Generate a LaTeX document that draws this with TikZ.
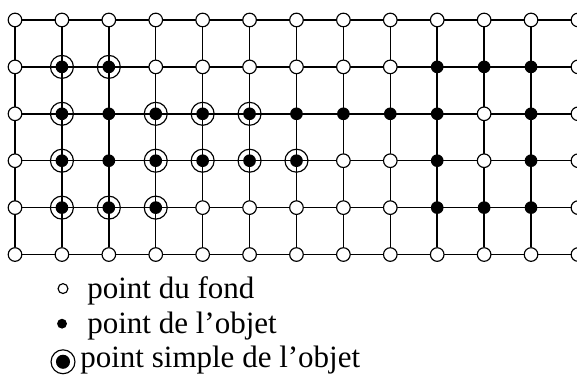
\documentclass[tikz,border=0pt]{standalone}
\usepackage{fontspec}
\setmainfont{Liberation Serif}
\usetikzlibrary{backgrounds}
\tikzset{
  pf/.style={circle, draw, fill=white, line width=0.7pt, minimum size=2.9mm, inner sep=0pt},
  po/.style={circle, fill=black, minimum size=2.7mm, inner sep=0pt},
  ps/.style={circle, draw, line width=0.7pt, minimum size=4.9mm, inner sep=0pt,
    path picture={\fill (path picture bounding box.center) circle[radius=1.35mm];}},
  grille/.style={line width=0.9pt},
  legende/.style={anchor=base west, inner sep=0pt, font=\fontsize{18.8}{22}\selectfont},
}

\begin{document}
\begin{tikzpicture}
  \useasboundingbox (-0.32,0.426) rectangle (11.98,-7.591);
  % f = point du fond, o = point de l'objet, s = point simple
  \foreach \ligne [count=\lig from 0] in {
      {f,f,f,f,f,f,f,f,f,f,f,f,f},
      {f,s,s,f,f,f,f,f,f,o,o,o,f},
      {f,s,o,s,s,s,o,o,o,o,f,o,f},
      {f,s,o,s,s,s,s,f,f,o,f,o,f},
      {f,s,s,s,f,f,f,f,f,o,o,o,f},
      {f,f,f,f,f,f,f,f,f,f,f,f,f}}
    \foreach \etat [count=\col from 0] in \ligne
      \node[p\etat] (p-\col-\lig) at (\col,-\lig) {};
  \begin{scope}[on background layer]
    \foreach \lig in {0,...,5}
      \draw[grille] (p-0-\lig) -- (p-12-\lig);
    \foreach \col in {0,...,12}
      \draw[grille] (p-\col-0) -- (p-\col-5);
  \end{scope}
  % legende
  \node[pf, minimum size=2.1mm] (lf) at (1.023,-5.726) {};
  \node[po, minimum size=2.1mm] (lo) at (1.002,-6.474) {};
  \node[ps, minimum size=5.1mm,
    path picture={\fill (path picture bounding box.center) circle[radius=1.5mm];}] (ls) at (1.023,-7.286) {};
  \node[legende] (tf) at (1.535,-5.94) {point du fond};
  \node[legende] (to) at (1.535,-6.69) {point de l'objet};
  \node[legende] (ts) at (1.386,-7.415) {point simple de l'objet};
\end{tikzpicture}
\end{document}
